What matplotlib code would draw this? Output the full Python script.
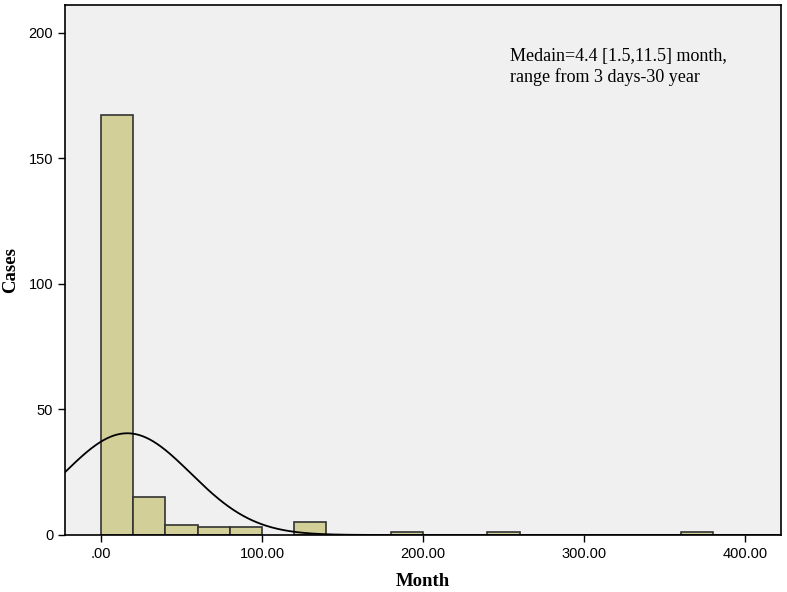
import matplotlib
matplotlib.use("Agg")
import matplotlib.pyplot as plt
import numpy as np

# histogram bins (width 20 months), counts
bin_left = [0, 20, 40, 60, 80, 120, 180, 240, 360]
counts = [167, 15, 4, 3, 3, 5, 1, 1, 1]
bin_width = 20

# fitted normal curve
mean, sd = 16.3, 39.4
n_total = sum(counts)

yticks = [0, 50, 100, 150, 200]
xticks = [0, 100, 200, 300, 400]
xticklabels = [".00", "100.00", "200.00", "300.00", "400.00"]

fig = plt.figure(figsize=(7.87, 5.92), dpi=100)
ax = fig.add_axes([0.0826, 0.0963, 0.9098, 0.8953])
ax.set_facecolor("#f0f0f0")

ax.bar(bin_left, counts, width=bin_width, align="edge",
       color="#d3cf99", edgecolor="#333333", linewidth=1.2, zorder=2)

x = np.linspace(-22.4, 422.4, 600)
y = n_total * bin_width / (sd * np.sqrt(2 * np.pi)) * np.exp(-0.5 * ((x - mean) / sd) ** 2)
ax.plot(x, y, color="black", linewidth=1.3, zorder=3)

ax.set_xlim(-22.4, 422.4)
ax.set_ylim(0, 211)
ax.set_xticks(xticks)
ax.set_xticklabels(xticklabels)
ax.set_yticks(yticks)
ax.tick_params(direction="out", length=5, width=1, labelsize=10.5, colors="black")
for lab in ax.get_xticklabels() + ax.get_yticklabels():
    lab.set_family("Liberation Sans")
for s in ax.spines.values():
    s.set_color("black")
    s.set_linewidth(1.2)

ax.set_xlabel("Month", family="Liberation Serif", fontweight="bold", fontsize=13.5, labelpad=9)
ax.set_ylabel("Cases", family="Liberation Serif", fontweight="bold", fontsize=13.5, labelpad=7)

ax.text(254, 194, "Medain=4.4 [1.5,11.5] month,\nrange from 3 days-30 year",
        family="Liberation Serif", fontsize=13, va="top", ha="left", linespacing=1.25)

fig.savefig("out.png", dpi=100)
